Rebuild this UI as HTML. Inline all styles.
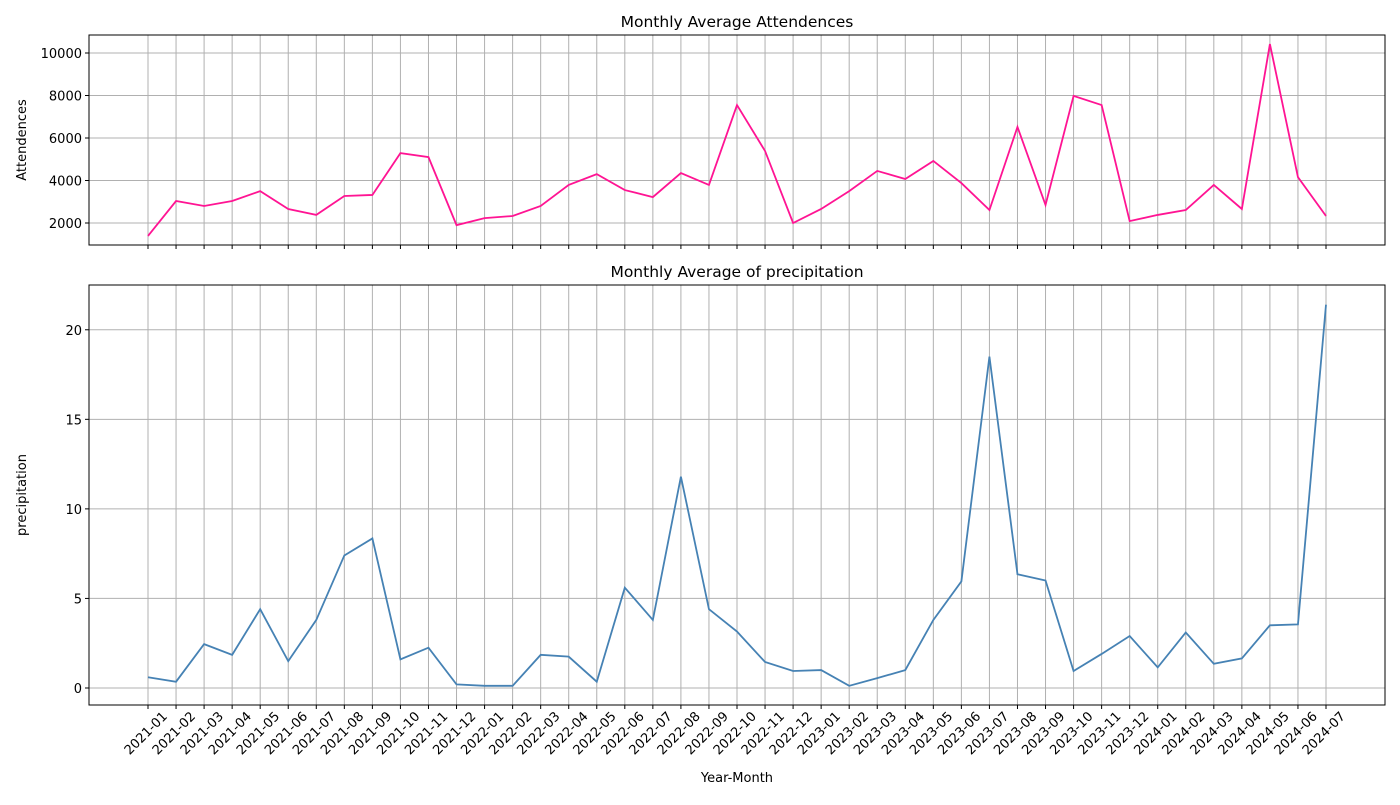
<!DOCTYPE html>
<html><head><meta charset="utf-8"><style>
body{margin:0;background:#fff;font-family:"Liberation Sans","DejaVu Sans",sans-serif}
svg text{font-family:"DejaVu Sans","Liberation Sans",sans-serif;fill:#000}
</style></head><body>
<svg id="c" width="1400" height="800" xmlns="http://www.w3.org/2000/svg"></svg>
<script>
const months=["2021-01","2021-02","2021-03","2021-04","2021-05","2021-06","2021-07","2021-08","2021-09","2021-10","2021-11","2021-12","2022-01","2022-02","2022-03","2022-04","2022-05","2022-06","2022-07","2022-08","2022-09","2022-10","2022-11","2022-12","2023-01","2023-02","2023-03","2023-04","2023-05","2023-06","2023-07","2023-08","2023-09","2023-10","2023-11","2023-12","2024-01","2024-02","2024-03","2024-04","2024-05","2024-06","2024-07"];
const attendance=[1390,3035,2800,3035,3500,2660,2380,3270,3320,5290,5100,1900,2230,2330,2800,3790,4300,3550,3220,4350,3790,7550,5390,2000,2660,3500,4450,4070,4920,3880,2610,6520,2850,7980,7550,2090,2380,2610,3790,2660,10420,4160,2330];
const precipitation=[0.6,0.35,2.45,1.85,4.4,1.5,3.8,7.4,8.35,1.6,2.25,0.2,0.12,0.12,1.85,1.75,0.35,5.6,3.8,11.8,4.4,3.15,1.45,0.95,1.0,0.12,0.55,1.0,3.8,5.95,18.5,6.35,6.0,0.95,1.9,2.9,1.15,3.1,1.35,1.65,3.5,3.55,21.4];
const attTicks=[2000,4000,6000,8000,10000];
const preTicks=[0,5,10,15,20];
const svg=document.getElementById('c');
const NS="http://www.w3.org/2000/svg";
function mk(t,a,txt){const e=document.createElementNS(NS,t);for(const k in a)e.setAttribute(k,a[k]);if(txt!==undefined)e.textContent=txt;svg.appendChild(e);return e;}
const X0=89,X1=1385;
const x=i=>148+i*(1326-148)/(months.length-1);
function panel(top,bot,ymin,ymax,vals,ticks,color,title,ylabel,showLabels,prefix){
  const y=v=>bot-(v-ymin)/(ymax-ymin)*(bot-top);
  months.forEach((m,i)=>{
    const g=mk('line',{x1:x(i),x2:x(i),y1:top,y2:bot,stroke:'#b0b0b0','stroke-width':1});
    
    
    const t=mk('line',{x1:x(i),x2:x(i),y1:bot,y2:bot+4,stroke:'#000','stroke-width':1});
    
    
    if(showLabels){
      const lx=x(i)+20,ly=bot+12;
      const l=mk('text',{x:lx,y:ly,'font-size':13,'text-anchor':'end',transform:`rotate(-45 ${lx} ${ly})`},m);
      
      
    }
  });
  ticks.forEach(v=>{
    const g=mk('line',{x1:X0,x2:X1,y1:y(v),y2:y(v),stroke:'#b0b0b0','stroke-width':1});
    
    
    mk('line',{x1:X0-4,x2:X0,y1:y(v),y2:y(v),stroke:'#000'});
    const l=mk('text',{x:X0-7,y:y(v)+5,'font-size':13,'text-anchor':'end'},String(v));
    
    
  });
  const p=mk('polyline',{points:vals.map((v,i)=>x(i)+','+y(v)).join(' '),fill:'none',stroke:color,'stroke-width':1.8});
  
  
  const f=mk('rect',{x:X0,y:top,width:X1-X0,height:bot-top,fill:'none',stroke:'#000','stroke-width':1});
  
  
  const tt=mk('text',{x:(X0+X1)/2,y:top-8,'font-size':15.5,'text-anchor':'middle'},title);
  
  
  const cy=(top+bot)/2;
  const yl=mk('text',{x:26,y:cy,'font-size':13,'text-anchor':'middle',transform:`rotate(-90 26 ${cy})`},ylabel);
  
  
}
panel(35,245,965,10847,attendance,attTicks,'#ff1493','Monthly Average Attendences','Attendences',false,'attendance');
panel(285,705,-0.95,22.5,precipitation,preTicks,'#4682b4','Monthly Average of precipitation','precipitation',true,'precipitation');
const xl=mk('text',{x:737,y:782,'font-size':13,'text-anchor':'middle'},'Year-Month');


</script>
</body></html>
